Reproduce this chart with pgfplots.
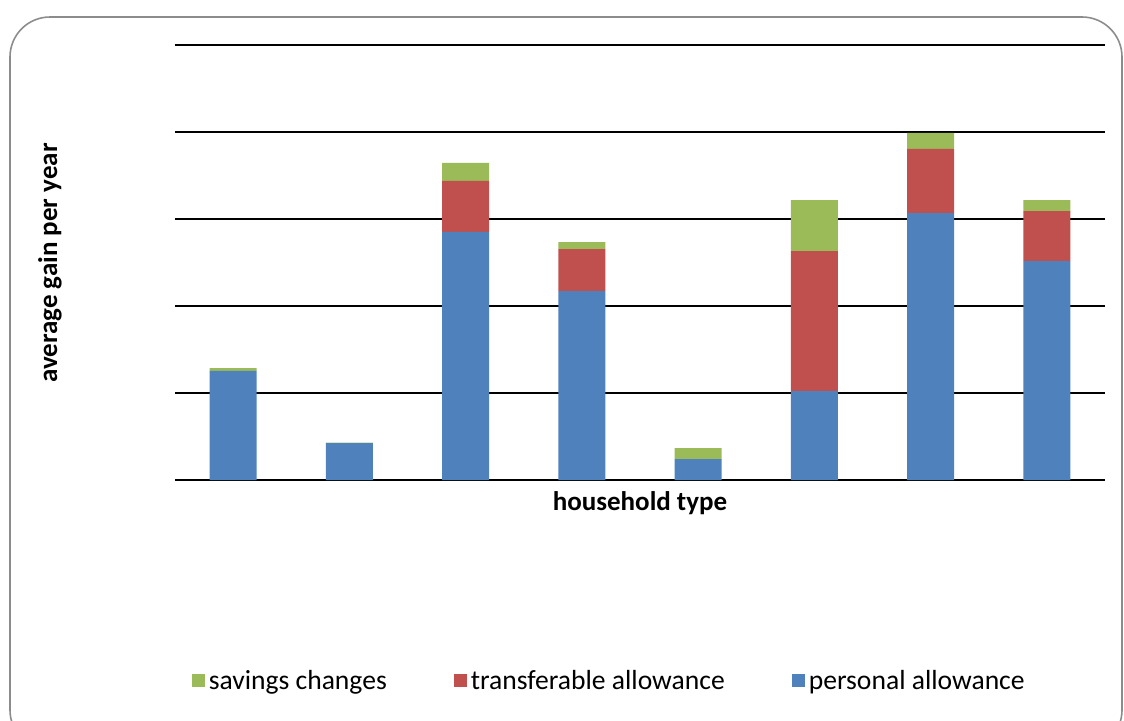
\documentclass[border=0pt]{standalone}
\usepackage{pgfplots}
\pgfplotsset{compat=1.18}
\usepackage{fontspec}
\setmainfont{Carlito}
\definecolor{cblue}{HTML}{4F81BD}
\definecolor{cred}{HTML}{C0504D}
\definecolor{cgreen}{HTML}{9BBB59}
\begin{document}
\begin{tikzpicture}
\useasboundingbox (0pt,0pt) rectangle (562pt,360pt);
\clip (0pt,0pt) rectangle (562pt,360pt);
\draw[color=black!45, line width=0.8pt, rounded corners=20pt] (5pt,-15pt) rectangle (561pt,351.5pt);
\node[rotate=90, font=\bfseries\fontsize{13.5}{15}\selectfont] at (25pt,228.5pt) {average gain per year};
\node[font=\bfseries\fontsize{13.5}{15}\selectfont] at (320pt,108.5pt) {household type};
\begin{axis}[
  at={(116.5625pt,120pt)}, anchor=origin,
  scale only axis, width=465pt, height=217.5pt,
  ybar stacked, bar width=23.5pt,
  xmin=-0.5, xmax=7.5, ymin=0, ymax=5,
  ytick={0,1,2,3,4,5}, xtick=\empty,
  yticklabels={},
  ymajorgrids, grid style={black, line width=1pt},
  axis line style={draw=none}, major tick style={draw=none},
  clip=false,
  reverse legend,
  legend columns=3,
  legend style={at={(0.468,-0.462)}, anchor=center, draw=none, fill=none,
    font=\fontsize{13.8}{15}\selectfont,
    /tikz/every even column/.append style={column sep=31.5pt}},
  legend image code/.code={\fill[#1] (0pt,-3.25pt) rectangle (6.5pt,3.25pt);},
]
\addplot[fill=cblue, draw=none] coordinates {(0,1.253) (1,0.425) (2,2.851) (3,2.172) (4,0.241) (5,1.023) (6,3.069) (7,2.517)};
\addlegendentry{personal allowance}
\addplot[fill=cred, draw=none] coordinates {(0,0) (1,0) (2,0.586) (3,0.483) (4,0) (5,1.609) (6,0.736) (7,0.575)};
\addlegendentry{transferable allowance}
\addplot[fill=cgreen, draw=none] coordinates {(0,0.034) (1,0.005) (2,0.207) (3,0.08) (4,0.126) (5,0.586) (6,0.184) (7,0.126)};
\addlegendentry{savings changes}
\end{axis}
\end{tikzpicture}
\end{document}
